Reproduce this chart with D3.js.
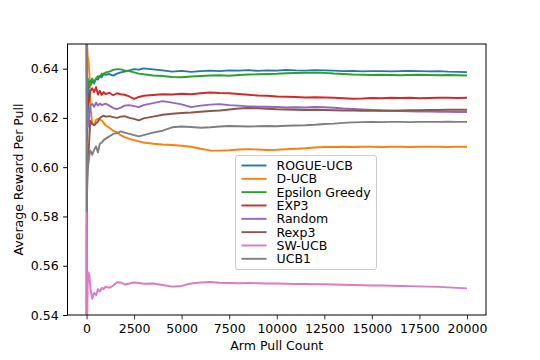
<!DOCTYPE html>
<html>
<head>
<meta charset="utf-8">
<script src="https://cdn.jsdelivr.net/npm/d3@7"></script>
<style>
  body { margin: 0; background: #fff; }
  svg { font-family: "DejaVu Sans", sans-serif; }
</style>
</head>
<body>
<div id="container"></div>
<script>
const pulls = [1, 10, 30, 60, 100, 150, 200, 300, 400, 500, 600, 700, 800, 900, 1000,
  1200, 1400, 1600, 1800, 2000, 2250, 2500, 2750, 3000, 3500, 4000, 4500, 5000, 5500,
  6000, 6500, 7000, 7500, 8000, 8500, 9000, 9500, 10000, 10500, 11000, 11500, 12000,
  12500, 13000, 13500, 14000, 14500, 15000, 15500, 16000, 16500, 17000, 17500, 18000,
  18500, 19000, 19500, 20000];

const algorithms = ["ROGUE-UCB", "D-UCB", "Epsilon Greedy", "EXP3", "Random", "Rexp3", "SW-UCB", "UCB1"];
const colors = ["#1f77b4", "#ff7f0e", "#2ca02c", "#d62728", "#9467bd", "#8c564b", "#e377c2", "#7f7f7f"];

const rogueUcb = [1, 0.615, 0.611, 0.62, 0.63, 0.634, 0.633, 0.635, 0.634, 0.636, 0.6355, 0.637, 0.6365, 0.638, 0.6375,
  0.6378, 0.6372, 0.638, 0.6385, 0.6388, 0.6393, 0.6398, 0.6396, 0.6401, 0.6397, 0.6393, 0.6388, 0.6391, 0.6387,
  0.6390, 0.6392, 0.6390, 0.6393, 0.6392, 0.6394, 0.6391, 0.6393, 0.6392, 0.6395, 0.6393, 0.6392, 0.6394,
  0.6393, 0.6392, 0.6390, 0.6391, 0.6389, 0.6390, 0.6390, 0.6389, 0.6390, 0.6391, 0.6390, 0.6389,
  0.6390, 0.6388, 0.6387, 0.6386];

const dUcb = [1, 0.66, 0.650, 0.645, 0.643, 0.638, 0.625, 0.6175, 0.617, 0.6192, 0.6196, 0.6193, 0.619, 0.618, 0.617,
  0.616, 0.6148, 0.6141, 0.613, 0.6122, 0.6115, 0.611, 0.6105, 0.610, 0.6095, 0.6092, 0.6090, 0.6087, 0.6083,
  0.6075, 0.6068, 0.6067, 0.6069, 0.6072, 0.6073, 0.6072, 0.6070, 0.6071, 0.6073, 0.6075, 0.6077, 0.6080,
  0.6082, 0.6082, 0.6083, 0.6082, 0.6083, 0.6083, 0.6082, 0.6083, 0.6083, 0.6082, 0.6083, 0.6083,
  0.6083, 0.6082, 0.6083, 0.6083];

const epsilonGreedy = [1, 0.64, 0.632, 0.636, 0.634, 0.6325, 0.635, 0.636, 0.6345, 0.636, 0.637, 0.6365, 0.638, 0.6375, 0.6385,
  0.6388, 0.6395, 0.6398, 0.6397, 0.6393, 0.639, 0.6385, 0.638, 0.6377, 0.6372, 0.637, 0.6366, 0.6365, 0.6368,
  0.6370, 0.6372, 0.6373, 0.6371, 0.6374, 0.6376, 0.6377, 0.6378, 0.6379, 0.6381, 0.6382, 0.6383, 0.6384,
  0.6383, 0.6380, 0.6378, 0.6376, 0.6375, 0.6374, 0.6375, 0.6374, 0.6373, 0.6374, 0.6375, 0.6374,
  0.6373, 0.6374, 0.6373, 0.6372];

const exp3 = [0, 0.61, 0.622, 0.628, 0.6256, 0.628, 0.631, 0.632, 0.6305, 0.6325, 0.6295, 0.631, 0.6293, 0.6305, 0.6297,
  0.6302, 0.6292, 0.6300, 0.6296, 0.6294, 0.6287, 0.6277, 0.6285, 0.6290, 0.6293, 0.6296, 0.6295, 0.6298, 0.6296,
  0.6300, 0.6303, 0.6301, 0.6300, 0.6297, 0.6294, 0.6291, 0.6290, 0.6287, 0.6286, 0.6285, 0.6283, 0.6284,
  0.6283, 0.6282, 0.6280, 0.6278, 0.6279, 0.6281, 0.6280, 0.6282, 0.6281, 0.6282, 0.6280, 0.6281,
  0.6282, 0.6282, 0.6281, 0.6282];

const random = [1, 0.63, 0.62, 0.6164, 0.617, 0.621, 0.625, 0.6257, 0.6245, 0.6262, 0.625, 0.6258, 0.6252, 0.6255, 0.6258,
  0.6250, 0.6240, 0.6236, 0.6242, 0.6250, 0.6252, 0.6248, 0.6244, 0.6252, 0.6260, 0.6268, 0.6262, 0.6255, 0.6244,
  0.6250, 0.6254, 0.6256, 0.6252, 0.6250, 0.6247, 0.6246, 0.6245, 0.6244, 0.6242, 0.6243, 0.6242, 0.6244,
  0.6243, 0.6241, 0.6238, 0.6236, 0.6234, 0.6232, 0.6230, 0.6229, 0.6228, 0.6227, 0.6226, 0.6226,
  0.6225, 0.6225, 0.6224, 0.6224];

const rexp3 = [0, 0.57, 0.59, 0.60, 0.605, 0.612, 0.6189, 0.6175, 0.617, 0.6178, 0.6185, 0.620, 0.6205, 0.6209, 0.6205,
  0.6207, 0.6203, 0.6200, 0.6205, 0.6207, 0.6200, 0.6196, 0.6190, 0.6198, 0.6205, 0.6213, 0.6217, 0.6220, 0.6222,
  0.6225, 0.6228, 0.6230, 0.6234, 0.6238, 0.6240, 0.6239, 0.6237, 0.6235, 0.6234, 0.6233, 0.6232, 0.6233,
  0.6232, 0.6231, 0.6230, 0.6230, 0.6229, 0.6229, 0.6230, 0.6229, 0.6230, 0.6231, 0.6231, 0.6232,
  0.6232, 0.6233, 0.6233, 0.6233];

const swUcb = [0, 0.582, 0.535, 0.552, 0.5573, 0.556, 0.551, 0.5466, 0.549, 0.548, 0.5505, 0.5495, 0.551, 0.5505, 0.5515,
  0.551, 0.552, 0.5533, 0.5532, 0.5524, 0.5528, 0.5532, 0.5530, 0.5527, 0.5528, 0.5522, 0.5515, 0.5518, 0.5528,
  0.5532, 0.5534, 0.5531, 0.5530, 0.5529, 0.5530, 0.5529, 0.5528, 0.5528, 0.5527, 0.5526, 0.5526, 0.5525,
  0.5525, 0.5524, 0.5523, 0.5522, 0.5521, 0.5520, 0.5520, 0.5519, 0.5518, 0.5517, 0.5516, 0.5515,
  0.5514, 0.5512, 0.5510, 0.5508];

const ucb1 = [1, 0.582, 0.595, 0.600, 0.6013, 0.605, 0.6068, 0.605, 0.607, 0.6085, 0.606, 0.6095, 0.610, 0.611, 0.6115,
  0.6125, 0.6135, 0.6138, 0.6145, 0.6140, 0.6135, 0.6130, 0.6125, 0.6130, 0.6140, 0.6148, 0.6162, 0.6165, 0.6163,
  0.6160, 0.6162, 0.6165, 0.6167, 0.6166, 0.6165, 0.6166, 0.6167, 0.6166, 0.6168, 0.6169, 0.6170, 0.6172,
  0.6175, 0.6177, 0.6180, 0.6182, 0.6183, 0.6184, 0.6183, 0.6184, 0.6184, 0.6183, 0.6184, 0.6184,
  0.6184, 0.6185, 0.6184, 0.6184];

const seriesValues = [rogueUcb, dUcb, epsilonGreedy, exp3, random, rexp3, swUcb, ucb1];

const xTicks = [0, 2500, 5000, 7500, 10000, 12500, 15000, 17500, 20000];
const yTicks = [0.54, 0.56, 0.58, 0.60, 0.62, 0.64];

const width = 540, height = 360;
const margin = { left: 67.5, right: 486, top: 44, bottom: 315 };
const fontSize = 12.5;

const svg = d3.select("#container").append("svg")
  .attr("width", width).attr("height", height);

const x = d3.scaleLinear().domain([-1000, 21000]).range([margin.left, margin.right]);
const y = d3.scaleLinear().domain([0.54, 0.65]).range([margin.bottom, margin.top]);

svg.append("clipPath").attr("id", "plot-clip")
  .append("rect").attr("x", margin.left).attr("y", margin.top)
  .attr("width", margin.right - margin.left).attr("height", margin.bottom - margin.top);

const line = d3.line().x((d) => x(d[0])).y((d) => y(d[1]));

// one path per algorithm, drawn in legend order
svg.append("g").attr("clip-path", "url(#plot-clip)")
  .selectAll("path")
  .data(seriesValues)
  .enter()
  .append("path")
  .attr("fill", "none")
  .attr("stroke", (d, i) => colors[i])
  .attr("stroke-width", 1.9)
  .attr("stroke-linejoin", "round")
  .attr("d", (vals) => line(vals.map((v, j) => [pulls[j], v])));

// axes
const xAxis = d3.axisBottom(x).tickValues(xTicks).tickFormat(d3.format("d"))
  .tickSize(4.4).tickPadding(4.4);
const yAxis = d3.axisLeft(y).tickValues(yTicks).tickFormat(d3.format(".2f"))
  .tickSize(4.4).tickPadding(4.4);

const gx = svg.append("g").attr("transform", `translate(0,${margin.bottom})`).call(xAxis);
const gy = svg.append("g").attr("transform", `translate(${margin.left},0)`).call(yAxis);

[gx, gy].forEach((g) => {
  g.select(".domain").remove();
  g.selectAll("text").attr("font-size", fontSize).attr("font-family", "DejaVu Sans").attr("fill", "#000");
});
gx.selectAll("line").attr("stroke", "#333");
gy.selectAll("line").attr("stroke", "#000");

// spines
svg.append("rect")
  .attr("x", margin.left).attr("y", margin.top)
  .attr("width", margin.right - margin.left).attr("height", margin.bottom - margin.top)
  .attr("fill", "none").attr("stroke", "#000").attr("stroke-width", 1);

svg.append("text")
  .attr("x", (margin.left + margin.right) / 2).attr("y", 350)
  .attr("text-anchor", "middle").attr("font-size", fontSize)
  .text("Arm Pull Count");

svg.append("text")
  .attr("transform", `translate(23,${(margin.top + margin.bottom) / 2}) rotate(-90)`)
  .attr("text-anchor", "middle").attr("font-size", fontSize)
  .text("Average Reward Per Pull");

// legend
const legend = svg.append("g").attr("transform", "translate(235.5,155.5)");
legend.append("rect")
  .attr("width", 141).attr("height", 114).attr("rx", 2.5)
  .attr("fill", "#fff").attr("fill-opacity", 0.8)
  .attr("stroke", "#ccc").attr("stroke-width", 1);

algorithms.forEach((name, i) => {
  const ly = 10 + i * 13.33;
  legend.append("line")
    .attr("x1", 6).attr("x2", 31).attr("y1", ly).attr("y2", ly)
    .attr("stroke", colors[i]).attr("stroke-width", 1.9);
  legend.append("text")
    .attr("x", 41).attr("y", ly).attr("dy", "0.35em")
    .attr("font-size", fontSize)
    .text(name);
});
</script>
</body>
</html>
